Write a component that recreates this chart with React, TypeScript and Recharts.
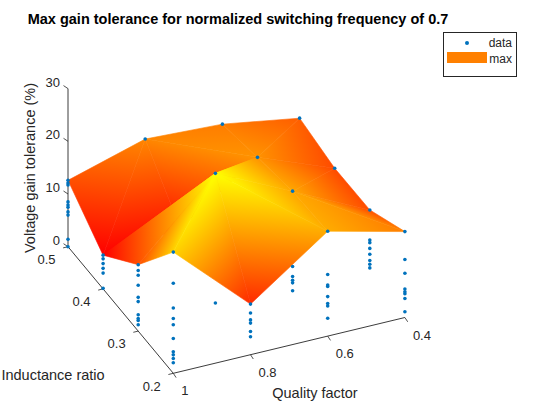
import React from 'react'
import { ScatterChart, Scatter, XAxis, YAxis, Legend } from 'recharts'

const FONT = '"Liberation Sans", Arial, Helvetica, sans-serif'
const INK = '#262626'
const DOT = '#0072BD'

// grid of the sweep
const qualityFactors = [1, 0.8, 0.6, 0.4]
const inductanceRatios = [0.2, 0.3, 0.4, 0.5]

// gain tolerance samples (%) at each grid point
// one list per inductance ratio, inner lists follow qualityFactors
const samplesL02 = [
  [23.0, 17.1, 12.4, 10.4, 9.2, 6.6, 4.1, 3.5, 2.8, 2.0],
  [9.6, 7.9, 6.6, 6.0, 4.4, 3.4],
  [19.9, 11.7, 9.7, 9.4, 7.5, 6.2, 5.7, 3.4],
  [16.3, 11.0, 8.4, 5.4, 4.9, 4.5, 3.6, 1.1],
]
const samplesL03 = [
  [12.6, 11.5, 10.6, 8.7, 6.4, 5.6, 3.1, 2.4, 2.0, 1.2],
  [26.4, 1.8],
  [19.5, 5.2, 3.3, 2.6, 2.1, 0.6],
  [12.4, 8.7, 6.7, 6.2, 5.1, 4.0, 2.8, 2.1, 1.4],
]
const samplesL04 = [
  [6.4, 5.7, 4.8, 3.9, 3.0, 0.1],
  [8.0],
  [17.9],
  [12.3, 0.3],
]
const samplesL05 = [
  [12.6, 12.1, 11.7, 8.5, 7.9, 7.5, 6.6, 6.0, 1.4, 0],
  [16.9],
  [16.2],
  [13.8],
]
const sampleRows = [samplesL02, samplesL03, samplesL04, samplesL05]

const zTicks = [0, 10, 20, 30]
const qTicks = [1, 0.8, 0.6, 0.4]
const lTicks = [0.5, 0.4, 0.3, 0.2]

// oblique view of the (Q, L, tolerance) box, same units as the hidden axes
const ORIGIN = { x: 173.3, y: 373.3 } // Q = 1, L = 0.2, tol = 0
const Q_STEP = { x: 77.2, y: -18.6 } // Q down by 0.2
const L_STEP = { x: -35.1, y: -42.2 } // L up by 0.1
const Z_STEP = -5.27 // tol up by 1 %

function project(q: number, l: number, z: number) {
  const a = (1 - q) / 0.2
  const b = (l - 0.2) / 0.1
  return {
    x: ORIGIN.x + a * Q_STEP.x + b * L_STEP.x,
    y: ORIGIN.y + a * Q_STEP.y + b * L_STEP.y + z * Z_STEP,
    // distance from the viewer (bigger = further back)
    depth: 29 * a + 65.8 * b - 3.37 * z,
  }
}

function autumn(t: number) {
  const g = Math.round(255 * Math.min(1, Math.max(0, t)))
  return `rgb(255,${g},0)`
}

// surface = max of the samples at each grid point
const surface = sampleRows.map(row => row.map(col => Math.max(...col)))
const zMin = Math.min(...surface.flat())
const zMax = Math.max(...surface.flat())

const vertex = (i: number, j: number) => {
  const z = surface[j][i]
  return { ...project(qualityFactors[i], inductanceRatios[j], z), z, t: (z - zMin) / (zMax - zMin) }
}

type V = ReturnType<typeof vertex>
const facets: { verts: V[]; depth: number }[] = []
for (let j = 0; j < inductanceRatios.length - 1; j++) {
  for (let i = 0; i < qualityFactors.length - 1; i++) {
    const v00 = vertex(i, j)
    const v10 = vertex(i + 1, j)
    const v01 = vertex(i, j + 1)
    const v11 = vertex(i + 1, j + 1)
    const tris =
      v00.z + v11.z >= v10.z + v01.z
        ? [[v00, v10, v11], [v00, v11, v01]]
        : [[v00, v10, v01], [v10, v11, v01]]
    tris.forEach(verts => facets.push({ verts, depth: (verts[0].depth + verts[1].depth + verts[2].depth) / 3 }))
  }
}
facets.sort((a, b) => b.depth - a.depth)

// a sample dot is hidden when some facet covers it and sits closer to the viewer
function hiddenBySurface(p: { x: number; y: number; depth: number }) {
  for (const f of facets) {
    const [a, b, c] = f.verts
    const det = (b.y - c.y) * (a.x - c.x) + (c.x - b.x) * (a.y - c.y)
    if (Math.abs(det) < 1e-9) continue
    const w0 = ((b.y - c.y) * (p.x - c.x) + (c.x - b.x) * (p.y - c.y)) / det
    const w1 = ((c.y - a.y) * (p.x - c.x) + (a.x - c.x) * (p.y - c.y)) / det
    const w2 = 1 - w0 - w1
    if (w0 < -0.01 || w1 < -0.01 || w2 < -0.01) continue
    const d = w0 * a.depth + w1 * b.depth + w2 * c.depth
    if (d < p.depth - 0.5) return true
  }
  return false
}

const sampleDots = sampleRows.flatMap((row, j) =>
  row.flatMap((col, i) => col.map(v => project(qualityFactors[i], inductanceRatios[j], v)))
)
const visibleDots = sampleDots.filter(p => !hiddenBySurface(p))

function FacetPatch(props: any) {
  const { points, ts, gid } = props
  if (!points || points.length < 3) return null
  const [p0, p1, p2] = points
  const poly = points.map((p: any) => `${p.x},${p.y}`).join(' ')
  const tMin = Math.min(...ts)
  const tMax = Math.max(...ts)
  const dx1 = p1.x - p0.x
  const dy1 = p1.y - p0.y
  const dx2 = p2.x - p0.x
  const dy2 = p2.y - p0.y
  const det = dx1 * dy2 - dx2 * dy1
  const flat = autumn((ts[0] + ts[1] + ts[2]) / 3)
  if (Math.abs(det) < 1e-6 || tMax - tMin < 1e-4) {
    return <polygon points={poly} fill={flat} stroke={flat} strokeWidth={0.6} strokeLinejoin="round" />
  }
  const dt1 = ts[1] - ts[0]
  const dt2 = ts[2] - ts[0]
  const gx = (dt1 * dy2 - dt2 * dy1) / det
  const gy = (dx1 * dt2 - dx2 * dt1) / det
  const g2 = gx * gx + gy * gy
  const s = points[ts.indexOf(tMin)]
  const k = (tMax - tMin) / g2
  return (
    <g>
      <defs>
        <linearGradient id={gid} gradientUnits="userSpaceOnUse" x1={s.x} y1={s.y} x2={s.x + gx * k} y2={s.y + gy * k}>
          <stop offset="0" stopColor={autumn(tMin)} />
          <stop offset="1" stopColor={autumn(tMax)} />
        </linearGradient>
      </defs>
      <polygon points={poly} fill={`url(#${gid})`} stroke={`url(#${gid})`} strokeWidth={0.6} strokeLinejoin="round" />
    </g>
  )
}

const noSymbol = () => <g />

const axisLines = [
  [project(1, 0.5, 0), project(1, 0.5, 30)],
  [project(1, 0.5, 0), project(1, 0.2, 0)],
  [project(1, 0.2, 0), project(0.4, 0.2, 0)],
]

const zTickData = zTicks.map(z => ({ ...project(1, 0.5, z), label: String(z) }))
const lTickData = lTicks.map(l => ({ ...project(1, l, 0), label: String(l) }))
const qTickData = qTicks.map(q => ({ ...project(q, 0.2, 0), label: String(q) }))

const tickText = { fontFamily: FONT, fontSize: 13, fill: INK }

const ZTick = (p: any) => (
  <g>
    <line x1={p.cx} y1={p.cy} x2={p.cx - 4.5} y2={p.cy - 3} stroke={INK} strokeWidth={0.8} />
    <text x={p.cx - 8} y={p.cy - 6.5} textAnchor="end" dominantBaseline="central" {...tickText}>
      {p.payload.label}
    </text>
  </g>
)
const LTick = (p: any) => (
  <g>
    <line x1={p.cx} y1={p.cy} x2={p.cx - 4.9} y2={p.cy + 1.2} stroke={INK} strokeWidth={0.8} />
    <text x={p.cx - 12.5} y={p.cy + 12.7} textAnchor="end" dominantBaseline="central" {...tickText}>
      {p.payload.label}
    </text>
  </g>
)
const QTick = (p: any) => (
  <g>
    <line x1={p.cx} y1={p.cy} x2={p.cx + 2.8} y2={p.cy + 4.3} stroke={INK} strokeWidth={0.8} />
    <text x={p.cx + 8} y={p.cy + 17.5} textAnchor="start" dominantBaseline="central" {...tickText}>
      {p.payload.label}
    </text>
  </g>
)

const SampleDot = (p: any) => <circle cx={p.cx} cy={p.cy} r={1.8} fill={DOT} />

function LegendBox() {
  return (
    <div
      style={{
        position: 'relative',
        width: 74,
        height: 45,
        boxSizing: 'border-box',
        border: `1px solid ${INK}`,
        background: '#fff',
        fontFamily: FONT,
        fontSize: 12,
        color: INK,
      }}
    >
      <div style={{ position: 'absolute', left: 21, top: 8, width: 4, height: 4, borderRadius: 2, background: DOT }} />
      <div style={{ position: 'absolute', right: 4, top: 2, lineHeight: '16px' }}>data</div>
      <div style={{ position: 'absolute', left: 3, top: 19, width: 40, height: 11, background: 'rgb(255,128,0)' }} />
      <div style={{ position: 'absolute', right: 4, top: 18, lineHeight: '16px' }}>max</div>
    </div>
  )
}

export default function App() {
  return (
    <div style={{ width: 560, height: 420 }}>
      <style>{'body{margin:0;background:#fff}'}</style>
      <ScatterChart width={560} height={420} margin={{ top: 0, right: 0, bottom: 0, left: 0 }}>
        <XAxis type="number" dataKey="x" domain={[0, 560]} hide allowDataOverflow />
        <YAxis type="number" dataKey="y" domain={[0, 420]} reversed hide allowDataOverflow />
        <Legend
          layout="vertical"
          align="center"
          verticalAlign="middle"
          wrapperStyle={{ left: 443, top: 32, width: 74, height: 45 }}
          content={() => <LegendBox />}
        />
        {axisLines.map((seg, n) => (
          <Scatter
            key={`axis-${n}`}
            data={seg}
            shape={noSymbol}
            line={{ stroke: INK, strokeWidth: 0.9 }}
            isAnimationActive={false}
            legendType="none"
          />
        ))}
        <Scatter data={zTickData} shape={ZTick} isAnimationActive={false} legendType="none" />
        <Scatter data={lTickData} shape={LTick} isAnimationActive={false} legendType="none" />
        <Scatter data={qTickData} shape={QTick} isAnimationActive={false} legendType="none" />
        {facets.map((f, n) => (
          <Scatter
            key={`facet-${n}`}
            data={f.verts}
            shape={noSymbol}
            line={<FacetPatch ts={f.verts.map(v => v.t)} gid={`facet-grad-${n}`} />}
            isAnimationActive={false}
            legendType="none"
          />
        ))}
        <Scatter name="data" data={visibleDots} shape={SampleDot} isAnimationActive={false} />
        <text x={238} y={19} textAnchor="middle" dominantBaseline="central" fontFamily={FONT} fontSize={14.5} fontWeight="bold" fill="#000">
          Max gain tolerance for normalized switching frequency of 0.7
        </text>
        <text
          x={29.5}
          y={168}
          transform="rotate(-90 29.5 168)"
          textAnchor="middle"
          dominantBaseline="central"
          fontFamily={FONT}
          fontSize={14.5}
          fill={INK}
        >
          Voltage gain tolerance (%)
        </text>
        <text x={53} y={375} textAnchor="middle" dominantBaseline="central" fontFamily={FONT} fontSize={14.5} fill={INK}>
          Inductance ratio
        </text>
        <text x={315} y={393} textAnchor="middle" dominantBaseline="central" fontFamily={FONT} fontSize={14.5} fill={INK}>
          Quality factor
        </text>
      </ScatterChart>
    </div>
  )
}
